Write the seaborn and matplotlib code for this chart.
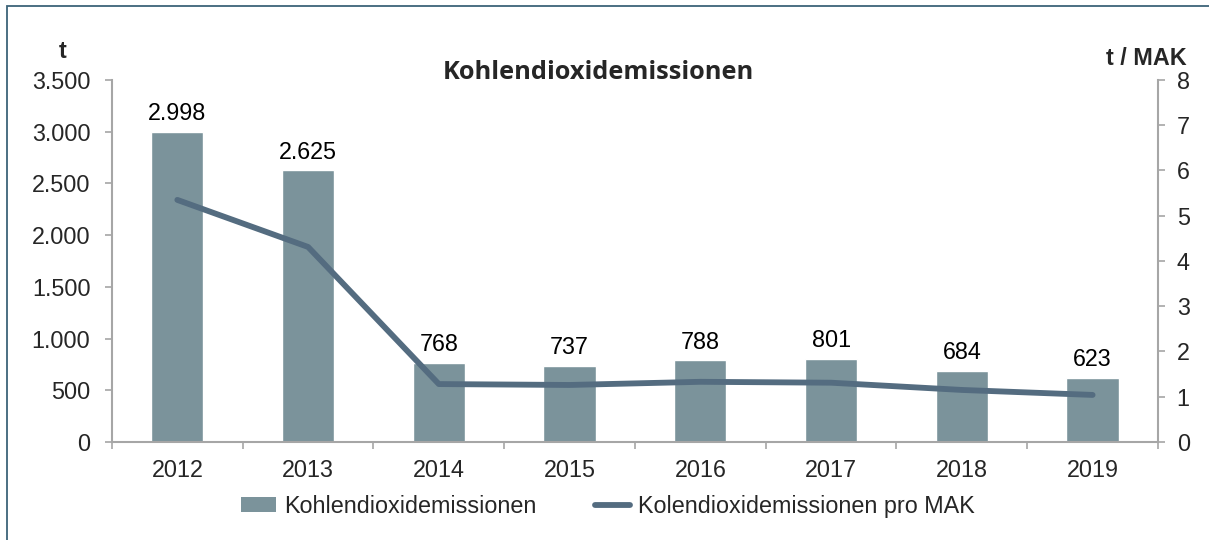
import numpy as np
import pandas as pd
import matplotlib
matplotlib.use("Agg")
import matplotlib.pyplot as plt
from matplotlib.ticker import FuncFormatter, FixedLocator
from matplotlib.patches import Rectangle, Patch
from matplotlib.lines import Line2D
import seaborn as sns

years = ["2012", "2013", "2014", "2015", "2016", "2017", "2018", "2019"]
emissions = [2998, 2625, 768, 737, 788, 801, 684, 623]
per_mak = [5.35, 4.31, 1.28, 1.26, 1.33, 1.31, 1.15, 1.04]
bar_label = "Kohlendioxidemissionen"
line_label = "Kolendioxidemissionen pro MAK"
title = "Kohlendioxidemissionen"

BAR_C = "#7b939b"
LINE_C = "#546c80"
AX_C = "#a6a6a6"
FS = 16.8

sns.set_theme(style="white")
plt.rcParams["font.family"] = ["Liberation Sans", "DejaVu Sans"]

fig = plt.figure(figsize=(12.09, 5.40), dpi=100)
ax = fig.add_axes([0.0926, 0.1815, 0.8652, 0.6704])

df = pd.DataFrame({"year": years, "emissions": emissions, "per_mak": per_mak})
sns.barplot(data=df, x="year", y="emissions", color=BAR_C, width=0.4,
            saturation=1, ax=ax, zorder=2)

def fmt(v, pos=None):
    return f"{int(round(v)):,}".replace(",", ".")

ax.set_ylim(0, 3500)
ax.set_xlim(-0.5, len(years) - 0.5)
ax.yaxis.set_major_locator(FixedLocator(np.arange(0, 3501, 500)))
ax.yaxis.set_major_formatter(FuncFormatter(fmt))
ax.set_xlabel("")
ax.set_ylabel("")

for i, v in enumerate(emissions):
    ax.annotate(fmt(v), (i, v), xytext=(0, 5), textcoords="offset points",
                ha="center", va="bottom", fontsize=FS, color="black")

ax2 = ax.twinx()
xpos = np.arange(len(years))
sns.lineplot(x=xpos, y=per_mak, ax=ax2, color=LINE_C, linewidth=4.2,
             solid_capstyle="round", solid_joinstyle="round", zorder=3)
ax2.set_ylim(0, 8)
ax2.yaxis.set_major_locator(FixedLocator(np.arange(0, 9, 1)))
ax2.set_xlim(-0.5, len(years) - 0.5)

# ticks / spines
ax.set_xticks(np.arange(len(years)))
ax.set_xticklabels(years, fontsize=FS)
ax.xaxis.set_minor_locator(FixedLocator(np.arange(-0.5, len(years), 1)))
ax.tick_params(axis="x", which="major", length=0, pad=12)
ax.tick_params(axis="x", which="minor", length=5, width=1.2, color=AX_C, direction="out", bottom=True)
ax.tick_params(axis="y", length=5, width=1.2, color=AX_C, direction="out", left=True, labelsize=FS, pad=10.5)
ax2.tick_params(axis="y", length=5, width=1.2, color=AX_C, direction="out", right=True, labelsize=FS, pad=8.5)

for a in (ax, ax2):
    a.spines["top"].set_visible(False)
    for s in ("left", "right", "bottom"):
        a.spines[s].set_color(AX_C)
        a.spines[s].set_linewidth(1.5)
ax.spines["right"].set_visible(False)
ax2.spines["left"].set_visible(False)
ax2.spines["bottom"].set_visible(False)
ax2.set_ylabel("")
ax.set_zorder(1)
ax2.set_zorder(2)
ax2.patch.set_visible(False)

# titles and axis unit labels
fig.text(0.495, 0.866, title, ha="center", va="center", fontsize=18.3,
         fontweight="bold", family=["Open Sans", "DejaVu Sans"])
fig.text(0.0515, 0.905, "t", ha="center", va="center", fontsize=FS, fontweight="bold")
fig.text(0.948, 0.892, "t / MAK", ha="center", va="center", fontsize=FS, fontweight="bold")

# legend
handles = [Patch(facecolor=BAR_C, edgecolor="none"),
           Line2D([0], [0], color=LINE_C, linewidth=4.2, solid_capstyle="round")]
fig.legend(handles, [bar_label, line_label], loc="center", bbox_to_anchor=(0.503, 0.062),
           ncol=2, frameon=False, fontsize=FS, handlelength=1.5, handleheight=0.6,
           handletextpad=0.35, columnspacing=2.5)

# outer frame (only top/left visible in the reference)
fig.patches.append(Rectangle((7 / 1209, -0.05), 1.2, 1 - 6 / 540 + 0.05,
                             transform=fig.transFigure, fill=False,
                             edgecolor="#3d6378", linewidth=1.3, zorder=10))

fig.savefig("out.png", dpi=100)
